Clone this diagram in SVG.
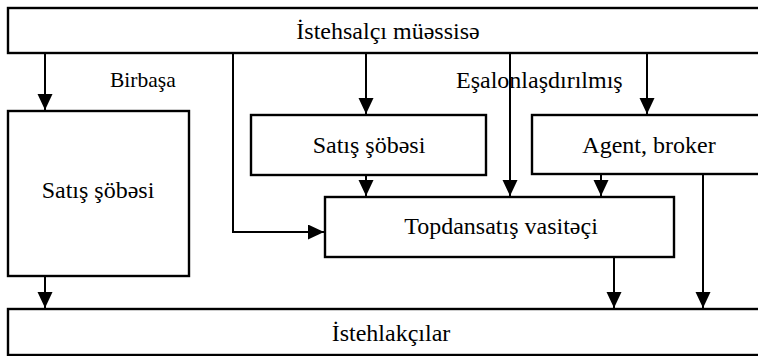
<svg xmlns="http://www.w3.org/2000/svg" width="758" height="356" viewBox="0 0 758 356">
<style>
.box{fill:#fff;stroke:#000;stroke-width:2.4}
.t{font-family:"Liberation Serif","Times New Roman",serif;font-size:24px;fill:#000;text-anchor:middle}
.lbl{font-family:"Liberation Serif","Times New Roman",serif;fill:#000}
.c{fill:none;stroke:#000;stroke-width:2}
</style>
<defs>
<marker id="ah" markerUnits="userSpaceOnUse" markerWidth="17" markerHeight="16" refX="16" refY="7.5" orient="auto">
<path d="M0,0 L16,7.5 L0,15 Z" fill="#000"/>
</marker>
</defs>
<rect width="758" height="356" fill="#fff"/>
<g id="producer"><rect class="box" x="8" y="8" width="760" height="45"/><text class="t" x="388" y="39">İstehsalçı müəssisə</text></g>
<g id="sales-left"><rect class="box" x="8" y="111" width="181" height="165"/><text class="t" x="98" y="198">Satış şöbəsi</text></g>
<g id="sales-mid"><rect class="box" x="251" y="115" width="235" height="60"/><text class="t" x="369" y="153">Satış şöbəsi</text></g>
<g id="agent"><rect class="box" x="532" y="115" width="240" height="59"/><text class="t" x="649" y="153">Agent, broker</text></g>
<g id="wholesale"><rect class="box" x="325" y="197" width="349" height="60"/><text class="t" x="501" y="234">Topdansatış vasitəçi</text></g>
<g id="consumers"><rect class="box" x="8" y="309" width="760" height="46"/><text class="t" x="391" y="341">İstehlakçılar</text></g>
<g id="labels">
<text class="lbl" x="110" y="87" font-size="21.5">Birbaşa</text>
<text class="lbl" x="456" y="88" font-size="24">Eşalonlaşdırılmış</text>
</g>
<g id="connectors">
<path class="c" d="M45,53 V110" marker-end="url(#ah)"/>
<path class="c" d="M233,53 V232 H324" marker-end="url(#ah)"/>
<path class="c" d="M366,53 V114" marker-end="url(#ah)"/>
<path class="c" d="M366,175 V196" marker-end="url(#ah)"/>
<path class="c" d="M510,53 V196" marker-end="url(#ah)"/>
<path class="c" d="M647,53 V114" marker-end="url(#ah)"/>
<path class="c" d="M601,174 V196" marker-end="url(#ah)"/>
<path class="c" d="M703,174 V308" marker-end="url(#ah)"/>
<path class="c" d="M614,257 V308" marker-end="url(#ah)"/>
<path class="c" d="M45,276 V308" marker-end="url(#ah)"/>
</g>
</svg>
